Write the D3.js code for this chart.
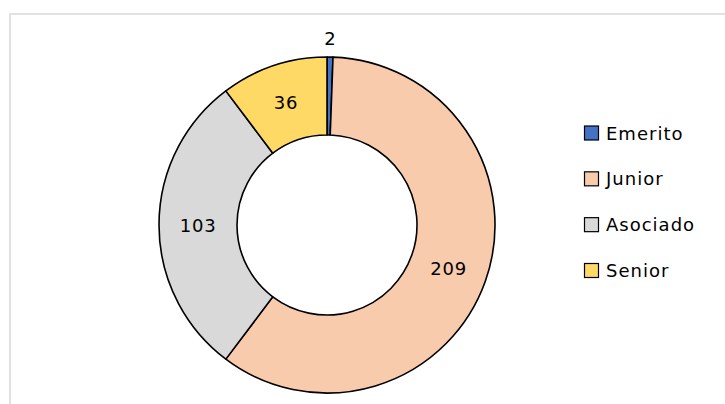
<!DOCTYPE html>
<html><head><meta charset="utf-8">
<script src="https://cdn.jsdelivr.net/npm/d3@7"></script>
<style>body{margin:0;background:#fff;}svg{display:block;font-family:"DejaVu Sans","Noto Sans",sans-serif;}</style>
</head><body>
<svg id="c" width="725" height="404"></svg>
<script>
const categories = ["Emerito", "Junior", "Asociado", "Senior"];
const values = [2, 209, 103, 36];
const colors = ["#4472C4", "#F8CBAD", "#D9D9D9", "#FFD966"];

const svg = d3.select("#c");
svg.append("rect").attr("x", 10).attr("y", 14).attr("width", 760).attr("height", 420)
  .attr("fill", "none").attr("stroke", "#d9d9d9").attr("stroke-width", 1.5);

const cx = 327, cy = 225, R = 168, r = 90;
const data = categories.map((c, i) => ({cat: c, v: values[i], col: colors[i]}));
const pie = d3.pie().value(d => d.v).sort(null);
const arcs = pie(data);
const arc = d3.arc().innerRadius(r).outerRadius(R);
const g = svg.append("g").attr("transform", `translate(${cx},${cy})`);
g.selectAll("path").data(arcs).join("path")
  .attr("d", arc).attr("fill", d => d.data.col)
  .attr("stroke", "#000").attr("stroke-width", 1.6).attr("stroke-linejoin", "round");

const labelArc = d3.arc().innerRadius(129).outerRadius(129);
const outArc = d3.arc().innerRadius(187).outerRadius(187);
g.selectAll("text").data(arcs).join("text")
  .attr("transform", d => `translate(${(d.data.v < 10 ? outArc : labelArc).centroid(d)})`)
  .attr("text-anchor", "middle").attr("dominant-baseline", "central")
  .attr("font-size", 18).attr("letter-spacing", 0.8).attr("fill", "#000")
  .text(d => d.data.v);

const lg = svg.append("g");
const ly = d3.scalePoint().domain(categories).range([133, 270.5]);
categories.forEach((c, i) => {
  const y = ly(c);
  lg.append("rect").attr("x", 584.5).attr("y", y - 7).attr("width", 14).attr("height", 14)
    .attr("fill", colors[i]).attr("stroke", "#000").attr("stroke-width", 1.2);
  lg.append("text").attr("x", 606).attr("y", y).attr("dominant-baseline", "central")
    .attr("font-size", 18).attr("letter-spacing", 1).attr("fill", "#000").text(c);
});
</script>
</body></html>
